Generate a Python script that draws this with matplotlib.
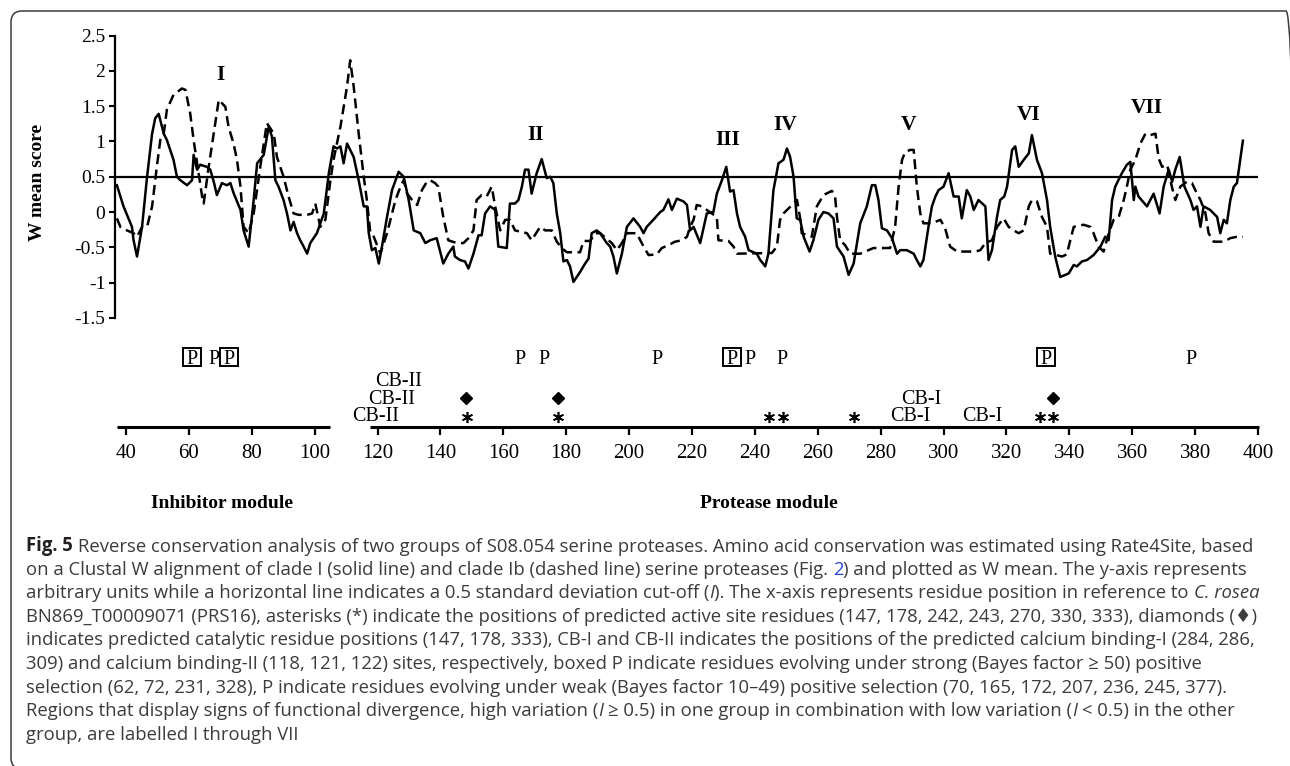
import matplotlib
matplotlib.use("Agg")
import matplotlib.pyplot as plt
from matplotlib.patches import FancyBboxPatch
from matplotlib.transforms import IdentityTransform
import numpy as np

W, H = 1290, 766

# clade I (solid line): residue position / W mean
solid_pos = [37.1, 39.2, 41.9, 42.4, 43.5, 45.1, 46.7, 48.3, 49.3, 50.4, 52.0, 53.0, 55.1, 56.2,
             57.3, 59.4, 61.0, 61.5, 62.6, 63.6, 65.7, 66.8, 67.9, 68.9, 70.5, 72.1, 73.2, 74.2,
             76.4, 77.4, 79.0, 80.6, 81.7, 83.8, 85.4, 86.4, 87.5, 88.5, 90.1, 91.2, 92.3, 93.3,
             94.4, 95.4, 96.5, 97.6, 98.6, 100.7, 102.9, 104.5, 106.0, 107.1, 108.2, 109.2, 110.3,
             111.3, 112.4, 114.0, 115.6, 116.6, 117.2, 118.2, 119.3, 120.4, 121.4, 123.0, 124.6,
             126.7, 128.3, 129.9, 131.5, 133.6, 135.2, 136.7, 138.8, 140.9, 142.5, 144.1, 144.6,
             146.2, 147.8, 148.9, 150.5, 152.1, 153.1, 154.2, 155.8, 157.4, 158.4, 161.1, 162.1,
             163.7, 164.8, 165.9, 166.9, 168.0, 169.0, 170.6, 172.2, 173.8, 174.9, 175.9, 177.0,
             178.1, 179.1, 180.2, 181.2, 182.3, 184.4, 186.0, 187.1, 188.1, 189.7, 190.8, 192.9,
             194.0, 195.0, 196.1, 197.7, 199.3, 201.4, 203.5, 204.6, 205.6, 207.7, 209.9, 210.9,
             212.5, 213.6, 215.2, 217.3, 218.4, 219.4, 220.5, 222.6, 224.7, 226.8, 227.9, 229.5,
             230.9, 232.1, 233.2, 234.3, 235.3, 236.9, 238.0, 240.6, 241.7, 243.3, 244.3, 245.9,
             247.5, 249.1, 250.2, 251.2, 252.3, 253.3, 254.4, 255.5, 257.4, 258.6, 260.2, 261.8,
             263.4, 265.0, 266.1, 268.2, 269.8, 271.4, 273.5, 275.6, 277.2, 278.3, 279.3, 280.4,
             282.0, 283.6, 285.2, 286.2, 288.3, 290.5, 291.5, 292.6, 293.6, 295.2, 296.3, 297.4,
             298.4, 300.0, 301.6, 303.2, 304.8, 305.8, 307.4, 308.5, 309.6, 311.1, 313.3, 314.3,
             315.4, 317.0, 318.0, 319.3, 320.2, 321.8, 322.8, 323.9, 325.5, 327.1, 328.1, 329.7,
             331.3, 332.9, 333.9, 335.5, 337.1, 339.8, 341.4, 342.4, 344.0, 345.6, 347.7, 349.9,
             351.4, 352.5, 353.6, 354.6, 356.7, 358.3, 359.4, 360.5, 361.0, 362.0, 364.7, 366.8,
             368.7, 370.0, 371.6, 372.7, 373.7, 375.1, 376.6, 378.5, 379.5, 380.6, 381.7, 382.7,
             384.8, 387.0, 388.0, 389.1, 390.1, 391.2, 392.3, 393.3, 395.2]
solid_w = [0.38, 0.08, -0.21, -0.40, -0.63, -0.21, 0.50, 1.11, 1.33, 1.39, 1.11, 1.02, 0.74, 0.50,
           0.45, 0.38, 0.45, 0.81, 0.60, 0.67, 0.64, 0.60, 0.43, 0.24, 0.41, 0.38, 0.41, 0.27,
           0.03, -0.26, -0.49, 0.17, 0.69, 0.81, 1.21, 1.07, 0.45, 0.36, 0.17, -0.02, -0.26, -0.14,
           -0.30, -0.40, -0.49, -0.59, -0.44, -0.30, -0.02, 0.55, 0.93, 0.90, 0.93, 0.69, 0.97,
           0.88, 0.78, 0.45, 0.08, 0.08, -0.30, -0.54, -0.51, -0.73, -0.49, -0.07, 0.31,
           0.57, 0.50, 0.17, -0.26, -0.30, -0.44, -0.40, -0.37, -0.73, -0.59, -0.49, -0.63,
           -0.68, -0.70, -0.80, -0.59, -0.33, -0.33, -0.02, 0.08, 0.03, -0.49, -0.51, 0.12,
           0.12, 0.17, 0.36, 0.60, 0.60, 0.26, 0.55, 0.75, 0.48, 0.50, 0.41, -0.02,
           -0.30, -0.70, -0.68, -0.77, -0.99, -0.85, -0.73, -0.66, -0.30, -0.26, -0.30, -0.44,
           -0.49, -0.63, -0.87, -0.59, -0.21, -0.09, -0.21, -0.30, -0.21, -0.11, 0.00, 0.03,
           0.18, 0.03, 0.19, 0.15, 0.10, -0.26, -0.21, -0.44, -0.02, 0.00, 0.26, 0.45,
           0.64, 0.29, 0.31, -0.02, -0.21, -0.35, -0.54, -0.59, -0.68, -0.77, -0.59, 0.31,
           0.69, 0.74, 0.90, 0.78, 0.50, -0.09, -0.11, -0.35, -0.56, -0.40, -0.11, 0.00,
           -0.02, -0.09, -0.49, -0.63, -0.89, -0.73, -0.16, 0.08, 0.38, 0.38, 0.17, -0.23,
           -0.26, -0.37, -0.59, -0.54, -0.54, -0.59, -0.68, -0.77, -0.68, -0.21, 0.08, 0.22,
           0.31, 0.36, 0.55, 0.22, 0.22, -0.09, 0.31, 0.22, 0.03, 0.17, 0.08, -0.68,
           -0.54, -0.07, 0.17, 0.22, 0.36, 0.88, 0.93, 0.64, 0.74, 0.83, 1.09, 0.74,
           0.55, 0.17, -0.21, -0.63, -0.92, -0.87, -0.75, -0.77, -0.70, -0.68, -0.61, -0.49,
           -0.35, -0.40, 0.17, 0.36, 0.55, 0.67, 0.71, 0.17, 0.36, 0.22, 0.08, 0.26,
           -0.02, 0.36, 0.60, 0.43, 0.60, 0.78, 0.36, 0.17, 0.03, 0.08, -0.21, 0.08,
           0.03, -0.07, -0.30, -0.11, -0.16, 0.17, 0.36, 0.41, 1.01]

# clade Ib (dashed line)
dashed_pos = [37.1, 38.2, 40.3, 42.4, 43.5, 45.1, 46.7, 48.3, 49.8, 50.9, 52.0, 53.0, 55.1, 57.8,
              58.9, 60.4, 61.5, 63.1, 64.2, 64.7, 66.3, 67.9, 69.5, 71.6, 72.6, 74.2, 75.3, 76.4,
              77.4, 79.0, 80.6, 82.7, 84.8, 87.0, 88.0, 90.1, 91.7, 93.3, 94.9, 97.6, 99.2, 100.2,
              101.8, 103.4, 105.0, 106.0, 108.2, 110.3, 111.3, 112.4, 114.0, 115.6, 116.6, 117.7,
              118.8, 120.9, 123.0, 125.7, 127.3, 128.3, 129.4, 131.0, 132.6, 134.1, 135.7, 136.7,
              138.3, 139.3, 140.9, 142.5, 145.2, 147.3, 148.9, 150.5, 151.5, 153.1, 154.7, 156.3,
              157.4, 159.0, 160.6, 162.1, 163.7, 167.5, 169.0, 171.7, 173.3, 175.4, 177.0, 178.6,
              180.2, 184.4, 185.5, 187.6, 189.2, 190.8, 194.5, 196.1, 197.7, 199.3, 202.4, 204.6,
              206.2, 208.8, 210.4, 212.5, 214.6, 216.8, 218.4, 219.4, 220.5, 221.5, 223.1, 226.3,
              227.9, 228.4, 231.6, 233.2, 234.3, 245.4, 247.0, 248.0, 249.1, 250.7, 252.3, 253.4,
              254.4, 254.9, 258.1, 259.7, 261.8, 264.5, 265.5, 266.1, 267.1, 268.7, 270.3, 273.5,
              277.7, 283.0, 284.6, 285.7, 286.8, 287.8, 289.4, 290.5, 291.5, 292.6, 293.6, 296.3,
              299.0, 300.5, 302.1, 304.3, 310.1, 311.7, 313.3, 315.4, 317.0, 319.1, 320.7, 322.3,
              323.9, 325.5, 327.1, 328.1, 329.7, 331.3, 332.9, 333.9, 337.7, 339.2, 340.3, 341.4,
              344.5, 346.7, 347.7, 349.3, 350.9, 352.5, 354.1, 355.7, 357.3, 358.3, 359.4, 361.0,
              362.6, 364.2, 365.8, 367.4, 368.4, 369.5, 371.1, 372.6, 373.7, 375.3, 377.4, 379.0,
              380.6, 381.7, 383.3, 384.3, 385.9, 389.1, 391.2, 393.3, 395.2]
dashed_w = [-0.09, -0.21, -0.26, -0.30, -0.35, -0.21, -0.21, 0.08, 0.64, 1.02, 1.11, 1.45, 1.66, 1.75,
            1.73, 1.40, 1.02, 0.55, 0.22, 0.12, 0.64, 1.11, 1.59, 1.49, 1.21, 0.97, 0.74, 0.36,
            -0.21, -0.30, -0.02, 0.64, 1.26, 1.11, 0.78, 0.50, 0.22, -0.02, -0.04, -0.04, -0.02, 0.12,
            -0.21, -0.11, 0.45, 0.74, 1.21, 1.78, 2.15, 1.78, 1.11, 0.50, 0.17, -0.30,
            -0.35, -0.59, -0.30, 0.17, 0.36, 0.45, 0.26, 0.17, 0.10, 0.31, 0.43, 0.45,
            0.41, 0.36, -0.07, -0.40, -0.44, -0.44, -0.37, -0.26, 0.17, 0.24, 0.22, 0.36,
            0.08, -0.26, -0.11, -0.11, -0.26, -0.30, -0.40, -0.21, -0.26, -0.26, -0.42, -0.51,
            -0.57, -0.57, -0.41, -0.41, -0.30, -0.30, -0.44, -0.54, -0.44, -0.30, -0.30, -0.49,
            -0.61, -0.60, -0.51, -0.47, -0.42, -0.40, -0.35, -0.21, -0.11, 0.10, 0.08, -0.02,
            -0.07, -0.40, -0.41, -0.49, -0.59, -0.58, -0.49, -0.11, -0.02, 0.05, 0.12, 0.17,
            -0.09, -0.30, -0.35, 0.08, 0.24, 0.30, 0.22, -0.07, -0.40, -0.47, -0.59, -0.59,
            -0.51, -0.51, -0.21, 0.36, 0.74, 0.85, 0.88, 0.88, 0.36, -0.02, -0.16, -0.16,
            -0.11, -0.23, -0.49, -0.56, -0.56, -0.54, -0.44, -0.40, -0.21, -0.09, -0.21, -0.26,
            -0.30, -0.26, 0.08, 0.17, 0.15, -0.07, -0.21, -0.59, -0.63, -0.60, -0.40, -0.21,
            -0.18, -0.21, -0.30, -0.49, -0.56, -0.30, -0.11, -0.07, 0.17, 0.36, 0.60, 0.74,
            0.97, 1.11, 1.09, 1.11, 0.76, 0.64, 0.67, 0.36, 0.17, 0.36, 0.43, 0.41,
            0.26, 0.17, -0.02, -0.30, -0.42, -0.42, -0.37, -0.35, -0.35]

cutoff = 0.5

region_names = ["I", "II", "III", "IV", "V", "VI", "VII"]
region_pos = [69.9, 170.1, 231.2, 249.6, 289.0, 326.9, 364.7]
region_w = [1.97, 1.12, 1.05, 1.26, 1.26, 1.41, 1.50]

strong_sel = [61.0, 72.6, 232.7, 332.6]          # boxed P
weak_sel = [68.0, 165.3, 172.9, 209.0, 238.5, 248.7, 378.7]
catalytic = [148.1, 177.4, 334.9]                # diamonds
active_site = [148.4, 177.4, 244.5, 249.0, 271.5, 330.7, 334.8]
cb_labels = ["CB-II", "CB-II", "CB-II", "CB-I", "CB-I", "CB-I"]
cb_pos = [126.8, 124.3, 119.5, 292.9, 289.4, 312.3]
cb_level = [-2.37, -2.62, -2.87, -2.62, -2.87, -2.87]

xticks = list(range(40, 401, 20))
yticks = [-1.5, -1, -0.5, 0, 0.5, 1, 1.5, 2, 2.5]

caption = [
    [("Fig. 5", "bold"), (" Reverse conservation analysis of two groups of S08.054 serine proteases. "
                          "Amino acid conservation was estimated using Rate4Site, based", "n")],
    [("on a Clustal W alignment of clade I (solid line) and clade Ib (dashed line) serine proteases (Fig.", "n"),
     (" 2", "link"), (") and plotted as W mean. The y-axis represents", "n")],
    [("arbitrary units while a horizontal line indicates a 0.5 standard deviation cut-off (", "n"),
     ("I", "it"), ("). The x-axis represents residue position in reference to", "n"), (" C. rosea", "it")],
    [("BN869_T00009071 (PRS16), asterisks (*) indicate the positions of predicted active site residues "
      "(147, 178, 242, 243, 270, 330, 333), diamonds (\u2666)", "n")],
    [("indicates predicted catalytic residue positions (147, 178, 333), CB-I and CB-II indicates the "
      "positions of the predicted calcium binding-I (284, 286,", "n")],
    [("309) and calcium binding-II (118, 121, 122) sites, respectively, boxed P indicate residues "
      "evolving under strong (Bayes factor \u2265 50) positive", "n")],
    [("selection (62, 72, 231, 328), P indicate residues evolving under weak (Bayes factor 10\u201349) "
      "positive selection (70, 165, 172, 207, 236, 245, 377).", "n")],
    [("Regions that display signs of functional divergence, high variation (", "n"), ("I", "it"),
     (" \u2265 0.5) in one group in combination with low variation (", "n"), ("I", "it"),
     (" < 0.5) in the other", "n")],
    [("group, are labelled I through VII", "n")],
]

plt.rcParams["font.family"] = ["Liberation Serif", "DejaVu Serif"]

fig = plt.figure(figsize=(W / 100, H / 100), dpi=100)

# rounded frame round the panel; right and bottom edges fall just outside the image
frame = FancyBboxPatch((11, -3), 1286, H - 8, boxstyle="round,pad=0,rounding_size=11",
                       transform=IdentityTransform(), fill=False, ec="#3a3a3a", lw=1.1)
fig.patches.append(frame)

ax = fig.add_axes([115 / W, 1 - 427 / H, (1258 - 115) / W, (427 - 32) / H])
ax.set_xlim(36.5, 400)
ybot = -3.045
ax.set_ylim(ybot, 2.55)

ax.plot(solid_pos, solid_w, color="black", lw=1.8)
ax.plot(dashed_pos, dashed_w, color="black", lw=1.8, dashes=(4, 2.2))
ax.axhline(cutoff, color="black", lw=1.6)

for name, x, y in zip(region_names, region_pos, region_w):
    ax.annotate(name, (x, y), xytext=(0, -5.2), textcoords="offset points", ha="center",
                va="baseline", fontsize=15.5, fontweight="bold")

# axes
for s in ["top", "right", "bottom"]:
    ax.spines[s].set_visible(False)
ax.spines["left"].set_bounds(-1.5, 2.5)
ax.spines["left"].set_linewidth(1.6)
ax.set_yticks(yticks)
ax.set_yticklabels([f"{v:g}" for v in yticks])
ax.set_xticks(xticks)
ax.set_xticklabels([str(v) for v in xticks])
ax.tick_params(axis="y", length=4, width=1.5, pad=3, labelsize=14)
ax.tick_params(axis="x", length=6, width=1.6, pad=6, labelsize=15)
ax.plot([37.1, 104.9], [ybot, ybot], color="black", lw=2.2, clip_on=False, solid_capstyle="butt")
ax.plot([117.6, 400.4], [ybot, ybot], color="black", lw=2.2, clip_on=False, solid_capstyle="butt")

# annotation rows under the plot
p_row = -2.05
ax.plot(strong_sel, [p_row] * len(strong_sel), "s", ms=13.5, mfc="none", mec="black", mew=1.4,
        clip_on=False)
for x in strong_sel + weak_sel:
    ax.annotate("P", (x, p_row), xytext=(0, -5), textcoords="offset points", ha="center",
                va="baseline", fontsize=14.5, annotation_clip=False)
ax.plot(catalytic, [-2.63] * len(catalytic), "D", ms=6.2, color="black", clip_on=False)
ax.plot(active_site, [-2.90] * len(active_site), ls="none", marker=(6, 2, 0), ms=8, mew=1.2,
        color="black", clip_on=False)
for lab, x, y in zip(cb_labels, cb_pos, cb_level):
    ax.annotate(lab, (x, y), xytext=(0, -4.8), textcoords="offset points", ha="center",
                va="baseline", fontsize=14.5, annotation_clip=False)

fig.text(37 / W, 1 - 182 / H, "W mean score", rotation=90, ha="center", va="center",
         fontsize=14, fontweight="bold")
fig.text(222 / W, 1 - 508 / H, "Inhibitor module", ha="center", va="baseline",
         fontsize=14, fontweight="bold")
fig.text(769 / W, 1 - 508 / H, "Protease module", ha="center", va="baseline",
         fontsize=14, fontweight="bold")

# caption
cap_font = ["Open Sans", "DejaVu Sans"]
cap_color = "#3b3b3b"
renderer = fig.canvas.get_renderer()
probe = fig.text(0, 0, "".join(t for t, _ in caption[0]), fontsize=10, family=cap_font)
line1_w = probe.get_window_extent(renderer).width
probe.remove()
cap_size = 10 * 1228 / line1_w
probe = fig.text(0, 0, "a a", fontsize=cap_size, family=cap_font)
w1 = probe.get_window_extent(renderer).width
probe.set_text("aa")
space_px = w1 - probe.get_window_extent(renderer).width
probe.remove()

for i, segs in enumerate(caption):
    base = 551 + 23.6 * i
    prev = None
    for text, kind in segs:
        kw = dict(fontsize=cap_size, family=cap_font, color=cap_color)
        if kind == "bold":
            kw.update(fontweight="bold", color="#231f20")
        elif kind == "it":
            kw.update(style="italic")
        elif kind == "link":
            kw.update(color="#2b45d8")
        gap = space_px if text.startswith(" ") else 0
        if prev is None:
            prev = fig.text(26 / W, 1 - base / H, text.strip(), ha="left", va="baseline", **kw)
        else:
            prev = ax.annotate(text.strip(), xy=(1, 0), xycoords=prev, xytext=(gap, 0),
                               textcoords="offset pixels", ha="left", va="bottom",
                               annotation_clip=False, **kw)

fig.savefig("out.png", dpi=100)
